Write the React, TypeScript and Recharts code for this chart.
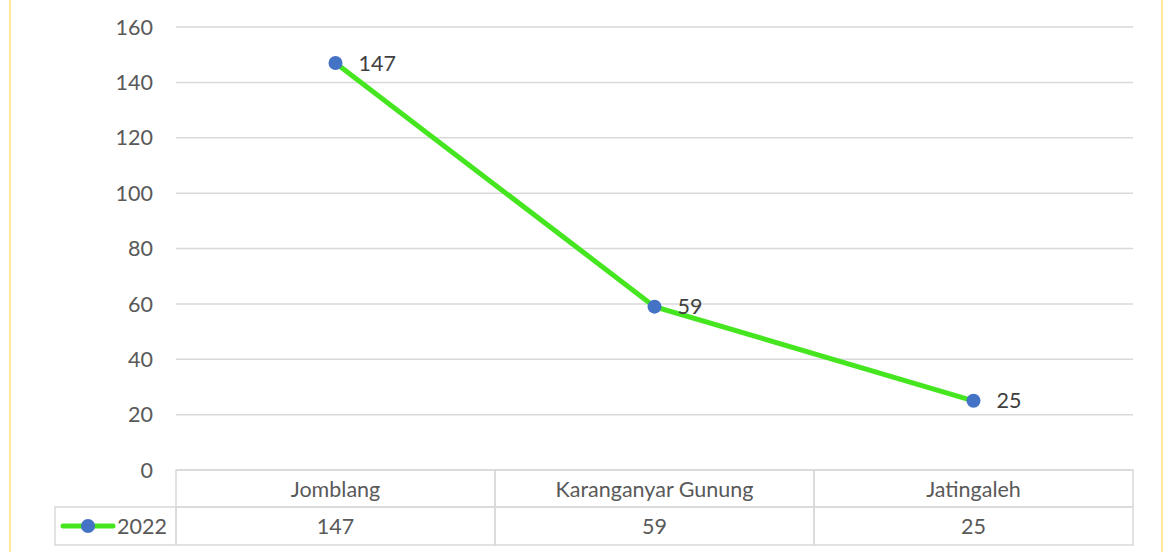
import { CartesianGrid, LabelList, Line, LineChart, XAxis, YAxis } from "recharts";

const categories = ["Jomblang", "Karanganyar Gunung", "Jatingaleh"];
const values2022 = [147, 59, 25];
const seriesName = "2022";
const yTicks = [0, 20, 40, 60, 80, 100, 120, 140, 160];

const data = categories.map((name, i) => ({ name, value: values2022[i] }));

const W = 1163;
const H = 552;
const LEFT = 176;
const RIGHT = 30;
const PLOT_W = W - LEFT - RIGHT;
const CELL = PLOT_W / categories.length;
const ROW1 = 37;
const ROW2 = 38;
const LEGEND_W = 121;

const GREEN = "#45e620";
const BLUE = "#4472c4";
const GRID = "#d9d9d9";
const TEXT = "#595959";
const FONT = "Lato, 'Noto Sans', sans-serif";
const FS = 21.5;

function TableTick(props: any) {
  const { x, y, payload, index } = props;
  const left = x - CELL / 2;
  const midRow2 = y + ROW1 + ROW2 / 2;
  return (
    <g>
      <rect x={left} y={y} width={CELL} height={ROW1} fill="none" stroke={GRID} strokeWidth={1.5} />
      <rect x={left} y={y + ROW1} width={CELL} height={ROW2} fill="none" stroke={GRID} strokeWidth={1.5} />
      <text x={x} y={y + ROW1 / 2} textAnchor="middle" dominantBaseline="central" fill={TEXT} fontSize={FS} fontFamily={FONT}>
        {payload.value}
      </text>
      <text x={x} y={midRow2} textAnchor="middle" dominantBaseline="central" fill={TEXT} fontSize={FS} fontFamily={FONT}>
        {values2022[index]}
      </text>
      {index === 0 && (
        <g>
          <rect x={left - LEGEND_W} y={y + ROW1} width={LEGEND_W} height={ROW2} fill="none" stroke={GRID} strokeWidth={1.5} />
          <line x1={left - LEGEND_W + 8} x2={left - LEGEND_W + 58} y1={midRow2} y2={midRow2} stroke={GREEN} strokeWidth={5} strokeLinecap="round" />
          <circle cx={left - LEGEND_W + 33} cy={midRow2} r={7} fill={BLUE} />
          <text x={left - 9} y={midRow2} textAnchor="end" dominantBaseline="central" fill={TEXT} fontSize={FS} fontFamily={FONT}>
            {seriesName}
          </text>
        </g>
      )}
    </g>
  );
}

export default function App() {
  return (
    <div style={{ position: "absolute", left: 0, top: 0, width: W, height: H, background: "#fff" }}>
      <div
        style={{
          position: "absolute",
          left: 9,
          top: 0,
          width: 1150,
          height: H,
          borderLeft: "2px solid #ffe699",
          borderRight: "2px solid #ffe699",
        }}
      />
      <LineChart width={W} height={H} data={data} margin={{ top: 27, right: RIGHT, left: 0, bottom: 0 }}>
        <CartesianGrid vertical={false} stroke={GRID} strokeWidth={1.5} />
        <XAxis
          dataKey="name"
          axisLine={false}
          tickLine={false}
          tickSize={0}
          tickMargin={0}
          height={82}
          interval={0}
          padding={{ left: CELL / 2, right: CELL / 2 }}
          tick={<TableTick />}
        />
        <YAxis
          width={LEFT}
          domain={[0, 160]}
          ticks={yTicks}
          axisLine={false}
          tickLine={false}
          tickSize={0}
          tickMargin={23}
          tick={{ fill: TEXT, fontSize: FS, fontFamily: FONT }}
        />
        <Line
          type="linear"
          dataKey="value"
          stroke={GREEN}
          strokeWidth={5}
          dot={{ r: 7, fill: BLUE, stroke: "none" }}
          activeDot={false}
          isAnimationActive={false}
        >
          <LabelList dataKey="value" position="right" offset={23} fill="#404040" fontSize={FS} fontFamily={FONT} />
        </Line>
      </LineChart>
    </div>
  );
}
